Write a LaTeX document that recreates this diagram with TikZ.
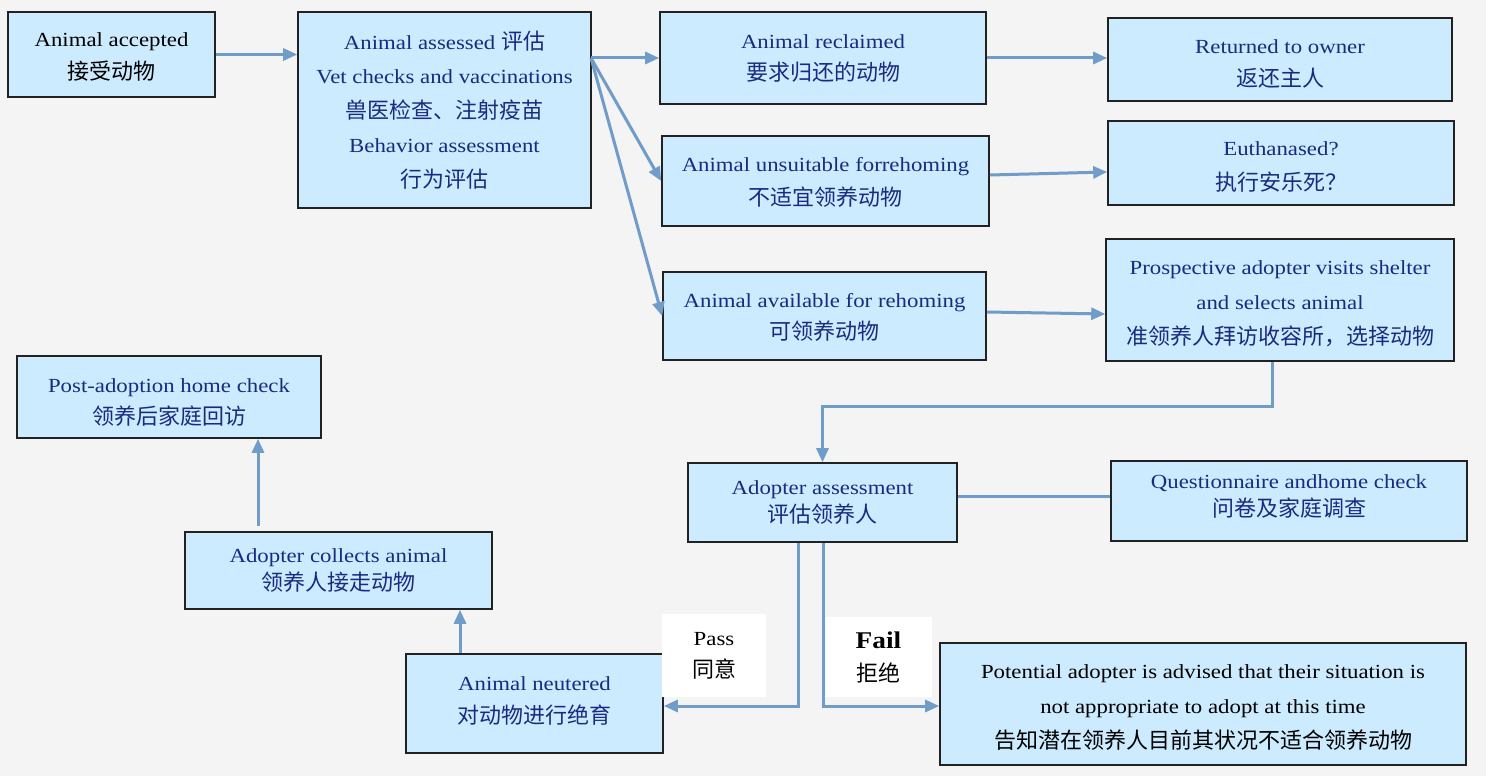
\documentclass[tikz,border=0pt]{standalone}
\usepackage{fontspec}
\setmainfont{Liberation Serif}[FakeStretch=1.14]
\newfontfamily\cjk{Noto Sans CJK SC}
\usetikzlibrary{arrows.meta,calc}
\definecolor{bgcol}{HTML}{F4F4F4}
\definecolor{boxfill}{HTML}{CCEBFF}
\definecolor{linecol}{HTML}{6F9CC9}
\definecolor{navy}{HTML}{1B2A80}
\definecolor{border}{HTML}{222222}
\newcommand{\zh}[1]{{\cjk\fontsize{22pt}{26pt}\selectfont #1}}
\tikzset{
  box/.style={draw=border, line width=1.6pt, fill=boxfill, inner sep=0pt},
  txt/.style={inner sep=0pt, align=center, text=navy},
  ls/.style={font=\fontsize{20pt}{#1pt}\selectfont},
  arr/.style={draw=linecol, line width=3pt, -{Triangle[length=14pt,width=12pt]}},
  plain/.style={draw=linecol, line width=3pt},
  lab/.style={fill=white, inner sep=0pt, align=center, text=black}
}
\begin{document}
\begin{tikzpicture}[x=1pt,y=-1pt]
\fill[bgcol] (0,0) rectangle (1486,776);
\useasboundingbox (0,0) rectangle (1486,776);

% boxes
\node[box, minimum width=207pt, minimum height=85pt] (acc) at (111.5,54.5) {};
\node[box, minimum width=293pt, minimum height=196pt] (ass) at (444.5,110) {};
\node[box, minimum width=326pt, minimum height=92pt] (rec) at (823,58) {};
\node[box, minimum width=344pt, minimum height=83pt] (ret) at (1280,59.5) {};
\node[box, minimum width=327pt, minimum height=90pt] (uns) at (825.5,181) {};
\node[box, minimum width=346pt, minimum height=84pt] (eut) at (1281,163) {};
\node[box, minimum width=323pt, minimum height=88pt] (avail) at (824.5,316) {};
\node[box, minimum width=348pt, minimum height=122pt] (pros) at (1280,300) {};
\node[box, minimum width=269pt, minimum height=79pt] (adop) at (822.5,502.5) {};
\node[box, minimum width=356pt, minimum height=80pt] (ques) at (1289,501) {};
\node[box, minimum width=304pt, minimum height=82pt] (post) at (169,397) {};
\node[box, minimum width=307pt, minimum height=77pt] (coll) at (338.5,570.5) {};
\node[box, minimum width=257pt, minimum height=99pt] (neut) at (534.5,703.5) {};
\node[box, minimum width=526pt, minimum height=122pt] (pot) at (1203,704) {};

% texts
\node[txt, ls=33, text=black] (acc-t) at ($(acc)+(0,2)$) {Animal accepted\\\zh{接受动物}};
\node[txt, ls=34.5] (ass-t) at (ass) {Animal assessed \zh{评估}\\Vet checks and vaccinations\\\zh{兽医检查、注射疫苗}\\Behavior assessment\\\zh{行为评估}};
\node[txt, ls=32] (rec-t) at (rec) {Animal reclaimed\\\zh{要求归还的动物}};
\node[txt, ls=33] (ret-t) at ($(ret)+(0,4)$) {Returned to owner\\\zh{返还主人}};
\node[txt, ls=34] (uns-t) at ($(uns)+(0,1)$) {Animal unsuitable forrehoming\\\zh{不适宜领养动物}};
\node[txt, ls=35] (eut-t) at ($(eut)+(0,4)$) {Euthanased?\\\zh{执行安乐死？}};
\node[txt, ls=32] (avail-t) at ($(avail)+(0,1)$) {Animal available for rehoming\\\zh{可领养动物}};
\node[txt, ls=35] (pros-t) at ($(pros)+(0,4)$) {Prospective adopter visits shelter\\and selects animal\\\zh{准领养人拜访收容所，选择动物}};
\node[txt, ls=28] (adop-t) at (adop) {Adopter assessment\\\zh{评估领养人}};
\node[txt, ls=28] (ques-t) at ($(ques)+(0,-5)$) {Questionnaire andhome check\\\zh{问卷及家庭调查}};
\node[txt, ls=32] (post-t) at ($(post)+(0,6)$) {Post-adoption home check\\\zh{领养后家庭回访}};
\node[txt, ls=28] (coll-t) at (coll) {Adopter collects animal\\\zh{领养人接走动物}};
\node[txt, ls=33] (neut-t) at ($(neut)+(0,-3)$) {Animal neutered\\\zh{对动物进行绝育}};
\node[txt, ls=35, text=black] (pot-t) at ($(pot)+(0,4)$) {Potential adopter is advised that their situation is\\not appropriate to adopt at this time\\\zh{告知潜在领养人目前其状况不适合领养动物}};

\node[lab, ls=32, minimum width=104pt, minimum height=83pt] (pass) at (714,655.5) {Pass\\\zh{同意}};
\node[lab, font=\fontsize{20pt}{33pt}\selectfont, minimum width=107pt, minimum height=80pt] (fail) at (878.5,657) {{\fontsize{24pt}{28pt}\selectfont\bfseries Fail}\\\zh{拒绝}};

% connectors
\coordinate (fan) at (591,58);
\draw[arr] (acc.east) -- (acc.east -| ass.west);
\draw[arr] (fan) -- (fan -| rec.west);
\draw[arr] (fan) -- (uns.west);
\draw[arr] (fan) -- (avail.west);
\draw[arr] (rec.east) -- (rec.east -| ret.west);
\draw[arr] ([yshift=6pt]uns.east) -- ([yshift=-9pt]eut.west);
\draw[arr] ([yshift=4pt]avail.east) -- ([yshift=-14pt]pros.west);
\draw[arr] ([xshift=-8pt]pros.south) -- ++(0,45) -| (adop.north);
\coordinate (qa) at ([yshift=6pt]adop.east);
\draw[plain] (qa) -- (qa -| ques.west);
\draw[arr] ([xshift=-24.5pt]adop.south) |- ([yshift=-2.5pt]neut.east);
\draw[arr] ([xshift=0.5pt]adop.south) |- ([yshift=-2pt]pot.west);
\coordinate (nn) at ([xshift=-74.5pt]neut.north);
\draw[arr] (nn) -- (nn |- coll.south);
\coordinate (cn) at ([xshift=-80.5pt,yshift=5pt]coll.north);
\draw[arr] (cn) -- (cn |- post.south);
\end{tikzpicture}
\end{document}
